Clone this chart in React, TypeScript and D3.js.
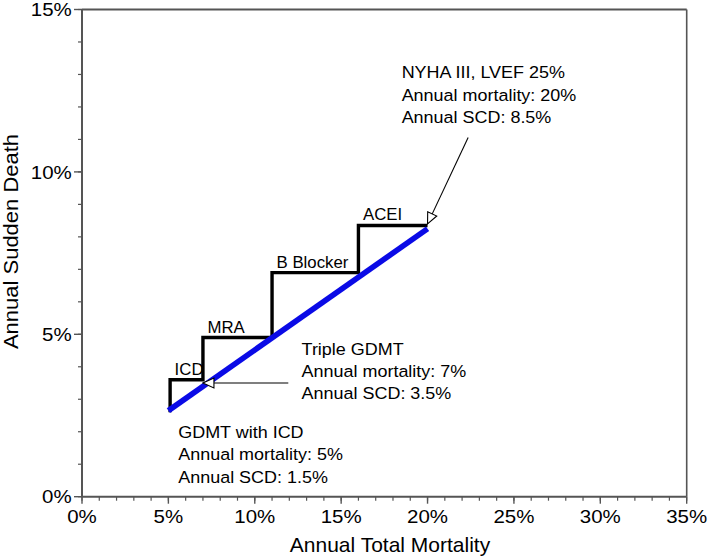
import React from "react";
import * as d3 from "d3";

// ---- data ----
const stepX = [5.1, 7, 11, 16, 20]; // annual total mortality (%)
const stepY = [2.6, 3.6, 4.9, 6.9, 8.35]; // annual sudden death (%)
const therapies = ["ICD", "MRA", "B Blocker", "ACEI"];
const trendX = [5, 20];
const trendY = [2.65, 8.25];
const xTickValues = [0, 5, 10, 15, 20, 25, 30, 35];
const yTickValues = [0, 5, 10, 15];
const xMinorTicks = d3.range(0, 36, 1);
const yMinorTicks = d3.range(0, 16, 1);

const nyhaLines = ["NYHA III, LVEF 25%", "Annual mortality: 20%", "Annual SCD: 8.5%"];
const nyhaTarget = [20, 8.4];
const nyhaTail = [22.35, 11.06];
const nyhaTextPos = [18.5, 12.89];

const tripleLines = ["Triple GDMT", "Annual mortality: 7%", "Annual SCD: 3.5%"];
const tripleTarget = [7, 3.5];
const tripleTail = [11.94, 3.5];
const tripleTextPos = [12.71, 4.35];

const icdLines = ["GDMT with ICD", "Annual mortality: 5%", "Annual SCD: 1.5%"];
const icdTextPos = [5.57, 1.81];

// ---- layout ----
const W = 709;
const H = 556;
const M = { left: 82, top: 9.5, right: 22.3, bottom: 59.3 };
const FONT = "'Liberation Sans', Arial, Helvetica, sans-serif";
const AXIS = "#555";
const INK = "#000";

function T({ x, y, size, sx = 1, anchor = "start", rotate = 0, children }: any) {
  return (
    <text
      transform={`translate(${x},${y}) rotate(${rotate}) scale(${sx},1)`}
      fontSize={size}
      fontFamily={FONT}
      textAnchor={anchor}
      fill={INK}
    >
      {children}
    </text>
  );
}

export default function App() {
  const x = d3.scaleLinear().domain([0, 35]).range([M.left, W - M.right]);
  const y = d3.scaleLinear().domain([0, 15]).range([H - M.bottom, M.top]);
  const x0 = x(0), x1 = x(35), y0 = y(0), y1 = y(15);

  const stepPts: [number, number][] = stepX.map((v, i) => [v, stepY[i]]);
  const stepLine = d3
    .line<[number, number]>()
    .x((d) => x(d[0]))
    .y((d) => y(d[1]))
    .curve(d3.curveStepBefore);
  const trendPts: [number, number][] = trendX.map((v, i) => [v, trendY[i]]);
  const straight = d3
    .line<[number, number]>()
    .x((d) => x(d[0]))
    .y((d) => y(d[1]));

  const lineGap = 22.5;

  return (
    <svg
      width={W}
      height={H}
      style={{ position: "absolute", left: 0, top: 0, background: "#fff" }}
    >
      <defs>
        <marker
          id="openArrow"
          viewBox="-1 -6 13 12"
          refX={11}
          refY={0}
          markerWidth={13}
          markerHeight={12}
          markerUnits="userSpaceOnUse"
          orient="auto"
        >
          <path d="M11,0 L0,-5 L0,5 Z" fill="#fff" stroke={INK} strokeWidth={1.1} />
        </marker>
      </defs>
      <rect x={0} y={0} width={W} height={H} fill="#fff" />

      {/* frame */}
      <line x1={x0} x2={x1} y1={y1} y2={y1} stroke={AXIS} strokeWidth={2} />
      <line x1={x1} x2={x1} y1={y1} y2={y0} stroke={AXIS} strokeWidth={1.6} />

      {/* minor ticks */}
      {xMinorTicks.map((t) => (
        <line key={"xm" + t} x1={x(t)} x2={x(t)} y1={y0} y2={y0 + 4} stroke={AXIS} strokeWidth={1.2} />
      ))}
      {yMinorTicks.map((t) => (
        <line key={"ym" + t} x1={x0 - 4} x2={x0} y1={y(t)} y2={y(t)} stroke={AXIS} strokeWidth={1.2} />
      ))}
      {/* major ticks + labels */}
      {xTickValues.map((t) => (
        <g key={"xt" + t}>
          <line x1={x(t)} x2={x(t)} y1={y0} y2={y0 + 7} stroke={AXIS} strokeWidth={1.4} />
          <T x={x(t)} y={y0 + 26.6} size={18.6} sx={1.1} anchor="middle">
            {t + "%"}
          </T>
        </g>
      ))}
      {yTickValues.map((t) => (
        <g key={"yt" + t}>
          <line x1={x0 - 8} x2={x0} y1={y(t)} y2={y(t)} stroke={AXIS} strokeWidth={1.4} />
          <T x={x0 - 10.3} y={y(t) + 6.6} size={18.6} sx={1.1} anchor="end">
            {t + "%"}
          </T>
        </g>
      ))}

      {/* axis lines */}
      <line x1={x0} x2={x1} y1={y0} y2={y0} stroke={AXIS} strokeWidth={2} />
      <line x1={x0} x2={x0} y1={y1} y2={y0} stroke={AXIS} strokeWidth={2} />

      {/* axis titles */}
      <T x={390} y={552} size={20} sx={1.05} anchor="middle">
        Annual Total Mortality
      </T>
      <T x={17.5} y={241.5} size={20} sx={1.1} anchor="middle" rotate={-90}>
        Annual Sudden Death
      </T>

      {/* step line (therapies) */}
      <path d={stepLine(stepPts) || ""} fill="none" stroke="#000" strokeWidth={3.4} strokeLinejoin="miter" />
      {therapies.map((name, i) => (
        <T key={name} x={x(stepX[i]) + 4.5} y={y(stepY[i + 1]) - 5} size={16.8}>
          {name}
        </T>
      ))}

      {/* trend line */}
      <path d={straight(trendPts) || ""} fill="none" stroke="#0a0ae6" strokeWidth={5.6} />

      {/* arrows */}
      <line
        x1={x(nyhaTail[0])}
        y1={y(nyhaTail[1])}
        x2={x(nyhaTarget[0])}
        y2={y(nyhaTarget[1])}
        stroke={INK}
        strokeWidth={1.1}
        markerEnd="url(#openArrow)"
      />
      <line
        x1={x(tripleTail[0])}
        y1={y(tripleTail[1])}
        x2={x(tripleTarget[0])}
        y2={y(tripleTarget[1])}
        stroke={INK}
        strokeWidth={1.2}
        markerEnd="url(#openArrow)"
      />

      {/* annotation text */}
      {nyhaLines.map((s, i) => (
        <T key={"n" + i} x={x(nyhaTextPos[0])} y={y(nyhaTextPos[1]) + i * lineGap} size={16.8} sx={1.07}>
          {s}
        </T>
      ))}
      {tripleLines.map((s, i) => (
        <T key={"t" + i} x={x(tripleTextPos[0])} y={y(tripleTextPos[1]) + i * 22} size={16.8} sx={1.07}>
          {s}
        </T>
      ))}
      {icdLines.map((s, i) => (
        <T key={"c" + i} x={x(icdTextPos[0])} y={y(icdTextPos[1]) + i * lineGap} size={16.8} sx={1.07}>
          {s}
        </T>
      ))}
    </svg>
  );
}
